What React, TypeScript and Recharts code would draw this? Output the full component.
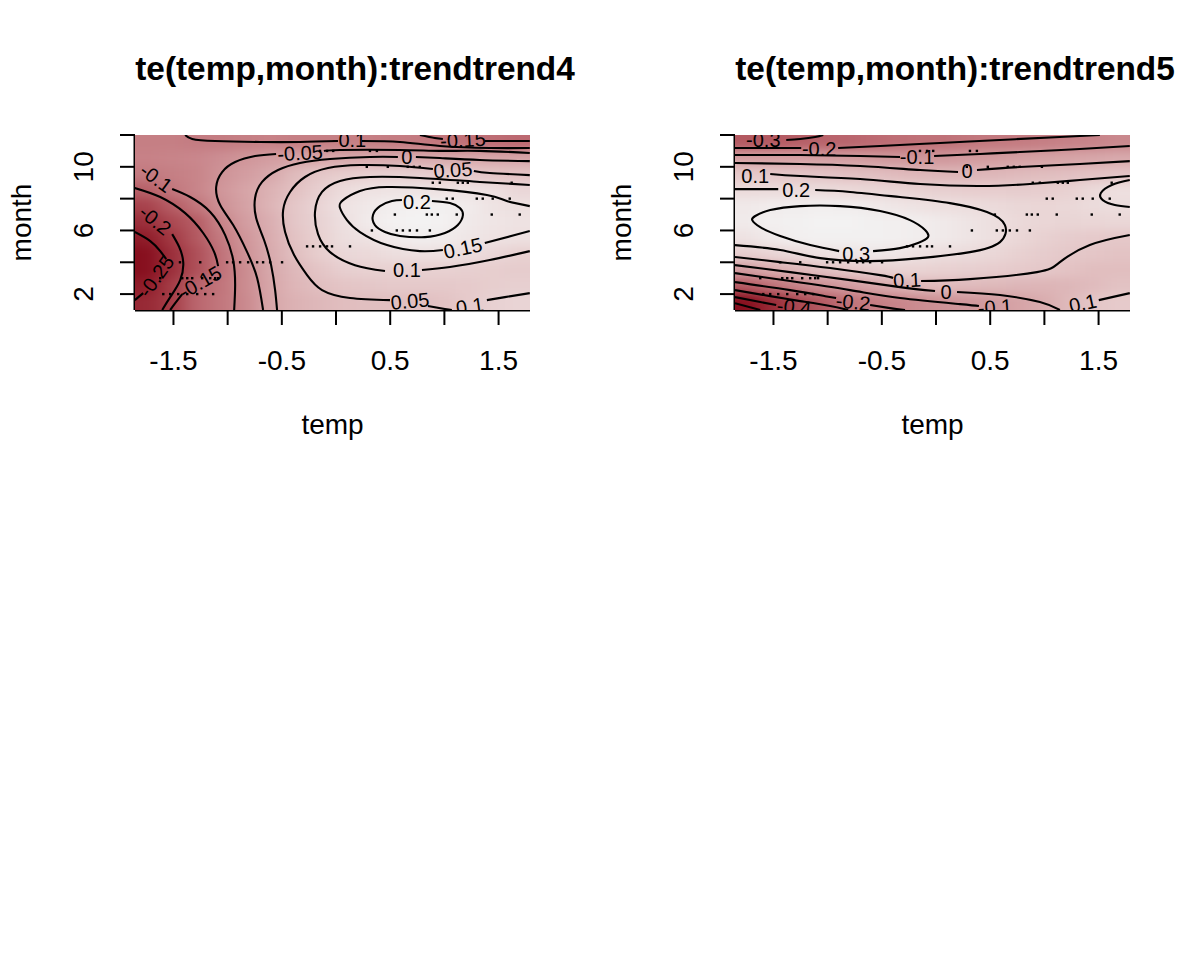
import React from 'react';
import { ComposedChart, XAxis, YAxis, Scatter } from 'recharts';

const FONT = '"Liberation Sans", Arial, Helvetica, sans-serif';

// ---------- axes ----------
const X_MIN = -1.855;
const X_MAX = 1.79;
const M_MIN = 1;
const M_MAX = 12;
const xTicks = [-1.5, -1, -0.5, 0, 0.5, 1, 1.5];
const xTickLabels = ['-1.5', '', '-0.5', '', '0.5', '', '1.5'];
const yTicks = [2, 4, 6, 8, 10, 12];
const yTickLabels = ['2', '', '6', '', '10', ''];

const titles = ['te(temp,month):trendtrend4', 'te(temp,month):trendtrend5'];
const xLabel = 'temp';
const yLabel = 'month';

// ---------- heat grid (cell centres) ----------
const tempCenters = [-1.741, -1.513, -1.285, -1.057, -0.83, -0.602, -0.374, -0.146, 0.082, 0.31, 0.537, 0.765, 0.993, 1.221, 1.449, 1.676];
const monthCenters = [11.5, 10.5, 9.5, 8.5, 7.5, 6.5, 5.5, 4.5, 3.5, 2.5, 1.5];

// rows: month 11.5 (top) ... 1.5 (bottom)
const heatTrend4 = [
  [-0.09, -0.09, -0.095, -0.095, -0.09, -0.085, -0.09, -0.09, -0.09, -0.09, -0.095, -0.1, -0.11, -0.12, -0.125, -0.13],
  [-0.085, -0.08, -0.075, -0.06, -0.045, -0.03, -0.02, -0.01, -0.005, 0.0, 0.0, 0.0, 0.0, -0.003, -0.005, -0.01],
  [-0.1, -0.09, -0.08, -0.05, -0.03, -0.005, 0.04, 0.07, 0.09, 0.097, 0.097, 0.095, 0.08, 0.075, 0.065, 0.06],
  [-0.145, -0.105, -0.08, -0.045, -0.015, 0.02, 0.055, 0.095, 0.135, 0.155, 0.16, 0.16, 0.155, 0.155, 0.145, 0.12],
  [-0.19, -0.15, -0.11, -0.055, -0.02, 0.025, 0.07, 0.11, 0.155, 0.185, 0.205, 0.215, 0.21, 0.19, 0.16, 0.145],
  [-0.22, -0.18, -0.15, -0.08, -0.03, 0.01, 0.07, 0.105, 0.145, 0.19, 0.215, 0.22, 0.215, 0.185, 0.165, 0.155],
  [-0.25, -0.205, -0.155, -0.1, -0.045, 0.005, 0.06, 0.1, 0.14, 0.155, 0.19, 0.2, 0.195, 0.17, 0.155, 0.145],
  [-0.27, -0.22, -0.17, -0.115, -0.05, 0.0, 0.05, 0.09, 0.12, 0.125, 0.14, 0.145, 0.145, 0.14, 0.12, 0.1],
  [-0.27, -0.22, -0.17, -0.115, -0.065, -0.005, 0.035, 0.065, 0.095, 0.1, 0.1, 0.1, 0.1, 0.095, 0.09, 0.085],
  [-0.25, -0.2, -0.14, -0.11, -0.065, -0.01, 0.03, 0.05, 0.065, 0.07, 0.075, 0.075, 0.075, 0.08, 0.09, 0.095],
  [-0.23, -0.2, -0.135, -0.105, -0.07, -0.01, 0.02, 0.035, 0.048, 0.05, 0.05, 0.052, 0.06, 0.08, 0.102, 0.11],
];

const heatTrend5 = [
  [-0.26, -0.26, -0.25, -0.235, -0.23, -0.22, -0.21, -0.2, -0.2, -0.185, -0.175, -0.17, -0.16, -0.15, -0.14, -0.13],
  [-0.05, -0.05, -0.05, -0.055, -0.06, -0.07, -0.08, -0.085, -0.08, -0.07, -0.065, -0.055, -0.045, -0.04, -0.03, -0.02],
  [0.1, 0.1, 0.09, 0.085, 0.07, 0.065, 0.05, 0.035, 0.03, 0.03, 0.035, 0.045, 0.055, 0.065, 0.08, 0.085],
  [0.19, 0.19, 0.19, 0.19, 0.18, 0.17, 0.16, 0.145, 0.135, 0.125, 0.125, 0.12, 0.125, 0.14, 0.18, 0.21],
  [0.27, 0.29, 0.3, 0.305, 0.3, 0.28, 0.25, 0.23, 0.21, 0.2, 0.185, 0.17, 0.165, 0.17, 0.19, 0.2],
  [0.28, 0.31, 0.32, 0.33, 0.33, 0.32, 0.31, 0.3, 0.27, 0.24, 0.21, 0.18, 0.165, 0.16, 0.165, 0.17],
  [0.23, 0.28, 0.31, 0.32, 0.32, 0.32, 0.31, 0.3, 0.27, 0.24, 0.21, 0.17, 0.14, 0.12, 0.11, 0.1],
  [0.13, 0.16, 0.19, 0.22, 0.24, 0.26, 0.25, 0.22, 0.2, 0.19, 0.17, 0.14, 0.12, 0.1, 0.09, 0.08],
  [-0.06, -0.01, 0.035, 0.07, 0.1, 0.13, 0.15, 0.15, 0.14, 0.135, 0.125, 0.11, 0.1, 0.08, 0.06, 0.06],
  [-0.25, -0.2, -0.145, -0.1, -0.07, -0.03, 0.0, 0.04, 0.05, 0.045, 0.04, 0.03, 0.025, 0.03, 0.05, 0.075],
  [-0.44, -0.37, -0.3, -0.26, -0.2, -0.17, -0.14, -0.115, -0.095, -0.08, -0.07, -0.04, -0.01, 0.04, 0.09, 0.11],
];

// ---------- observed (temp, month) points ----------
const obsPoints = [
  [-1.594, 2], [-1.53, 2], [-1.456, 2], [-1.373, 2], [-1.281, 2], [-1.207, 2], [-1.134, 2],
  [-1.622, 3], [-1.419, 3], [-1.373, 3], [-1.327, 3], [-1.235, 3], [-1.161, 3], [-1.115, 3], [-1.088, 3],
  [-1.44, 4], [-1.253, 4], [-1.005, 4], [-0.95, 4], [-0.885, 4], [-0.811, 4], [-0.728, 4], [-0.673, 4], [-0.608, 4], [-0.498, 4],
  [-0.267, 5], [-0.212, 5], [-0.147, 5], [-0.083, 5], [-0.037, 5], [0.129, 5],
  [0.331, 6], [0.561, 6], [0.617, 6], [0.681, 6], [0.747, 6], [0.866, 6],
  [0.543, 7], [0.838, 7], [0.884, 7], [0.939, 7], [1.114, 7], [1.437, 7], [1.695, 7],
  [1.022, 8], [1.077, 8], [1.299, 8], [1.354, 8], [1.446, 8], [1.603, 8],
  [0.893, 9], [0.958, 9], [1.124, 9], [1.17, 9], [1.216, 9], [1.621, 9],
  [0.284, 10], [0.478, 10], [0.662, 10], [0.718, 10], [0.773, 10], [0.977, 10],
  [-0.148, 11], [-0.083, 11], [-0.026, 11], [0.313, 11], [0.377, 11],
];

// ---------- contour pieces (temp, month) ----------
const contoursTrend4 = [
  [[-1.857, 5.9], [-1.714, 5.33], [-1.622, 4.7], [-1.567, 4.2]],
  [[-1.779, 2.06], [-1.857, 1.62]],
  [[-1.512, 5.77], [-1.447, 4.96], [-1.41, 4.01], [-1.438, 2.88], [-1.53, 1.81], [-1.604, 1.0]],
  [[-1.857, 8.67], [-1.622, 8.1], [-1.392, 7.09], [-1.226, 5.84], [-1.124, 4.64], [-1.088, 3.76]],
  [[-1.419, 2.0], [-1.484, 1.43], [-1.53, 1.0]],
  [[-1.512, 8.6], [-1.346, 8.1], [-1.161, 7.16], [-1.023, 5.71], [-0.949, 4.14], [-0.931, 2.57], [-0.94, 1.0]],
  [[-1.392, 12], [-1.327, 11.75], [-1.115, 11.62], [-0.7, 11.56], [-0.332, 11.56], [0.018, 11.62]],
  [[0.24, 11.62], [0.59, 11.56], [0.959, 11.31], [1.419, 11.18], [1.788, 11.18]],
  [[0.774, 12], [0.912, 11.81], [0.986, 11.75]],
  [[1.373, 11.62], [1.788, 11.62]],
  [[1.788, 10.87], [1.327, 11.0], [0.959, 11.0], [0.59, 11.06], [0.037, 11.06], [-0.111, 11.0]],
  [[-0.553, 10.81], [-0.747, 10.68], [-0.931, 10.3], [-1.051, 9.67], [-1.106, 8.73], [-1.069, 7.6], [-0.949, 6.34], [-0.82, 4.64], [-0.728, 3.01], [-0.673, 1.0]],
  [[1.788, 10.36], [1.327, 10.43], [0.959, 10.55], [0.737, 10.62]],
  [[0.571, 10.62], [0.313, 10.62], [-0.055, 10.49], [-0.332, 10.24], [-0.535, 9.8], [-0.682, 9.05], [-0.747, 8.04], [-0.737, 6.78], [-0.664, 5.4], [-0.599, 3.82], [-0.562, 2.25], [-0.544, 1.0]],
  [[1.788, 9.48], [1.419, 9.61], [1.272, 9.74]],
  [[0.894, 9.86], [0.59, 10.05], [0.221, 10.11], [-0.074, 9.92], [-0.286, 9.36], [-0.424, 8.42], [-0.488, 7.28], [-0.47, 5.9], [-0.387, 4.45], [-0.267, 3.19], [-0.129, 2.25], [0.129, 1.75], [0.498, 1.62]],
  [[0.848, 1.25], [1.005, 1.06], [1.069, 1.0]],
  [[1.788, 8.86], [1.327, 9.05], [0.774, 9.3], [0.313, 9.36], [0.037, 9.11], [-0.129, 8.42], [-0.194, 7.16], [-0.166, 5.77], [-0.055, 4.64], [0.175, 3.82], [0.452, 3.45]],
  [[0.793, 3.51], [1.051, 3.7], [1.419, 4.14], [1.788, 4.7]],
  [[1.788, 7.53], [1.576, 7.85], [1.392, 8.23], [0.931, 8.6], [0.47, 8.73], [0.221, 8.48], [0.065, 7.91], [0.037, 7.41], [0.101, 6.65], [0.221, 5.9], [0.47, 5.08], [0.774, 4.7], [0.986, 4.77]],
  [[1.373, 5.21], [1.65, 5.71], [1.788, 5.96]],
  [[0.885, 7.85], [1.051, 7.72], [1.143, 7.41], [1.171, 6.97], [1.124, 6.34], [1.005, 5.84], [0.82, 5.58], [0.59, 5.65], [0.452, 5.9], [0.359, 6.34], [0.341, 6.97], [0.406, 7.53], [0.516, 7.85], [0.608, 7.91]],
  [[1.392, 1.62], [1.558, 1.81], [1.788, 2.06]],
];

const contourLabelsTrend4 = [
  { text: '-0.25', t: -1.659, m: 3.13, rot: -54 },
  { text: '-0.2', t: -1.668, m: 6.65, rot: 39 },
  { text: '-0.15', t: -1.253, m: 2.75, rot: -30 },
  { text: '-0.1', t: -1.659, m: 9.3, rot: 36 },
  { text: '-0.1', t: 0.12, m: 11.69, rot: 0 },
  { text: '-0.15', t: 1.171, m: 11.69, rot: -3 },
  { text: '-0.05', t: -0.332, m: 10.87, rot: -3 },
  { text: '0', t: 0.654, m: 10.62, rot: 0 },
  { text: '0.05', t: 1.078, m: 9.8, rot: -4 },
  { text: '0.05', t: 0.682, m: 1.56, rot: -5 },
  { text: '0.1', t: 0.654, m: 3.51, rot: 0 },
  { text: '0.15', t: 1.171, m: 4.89, rot: -12 },
  { text: '0.2', t: 0.746, m: 7.79, rot: 0 },
  { text: '0.1', t: 1.235, m: 1.25, rot: -8 },
];

const contoursTrend5 = [
  [[-1.382, 11.69], [-1.253, 11.75], [-1.115, 11.87], [-1.041, 12.0]],
  [[-1.855, 11.18], [-1.244, 11.18]],
  [[-0.903, 11.18], [-0.516, 11.31], [0.037, 11.5], [0.59, 11.69], [1.143, 11.87], [1.512, 12.0]],
  [[-1.855, 10.74], [-1.253, 10.74], [-0.7, 10.68], [-0.332, 10.62]],
  [[-0.018, 10.68], [0.406, 10.81], [0.774, 10.93], [1.327, 11.12], [1.788, 11.31]],
  [[-1.855, 10.24], [-1.253, 10.18], [-0.7, 10.05], [-0.147, 9.8], [0.203, 9.67]],
  [[0.378, 9.8], [0.774, 9.99], [1.327, 10.18], [1.788, 10.36]],
  [[-1.53, 9.55], [-1.253, 9.42], [-0.7, 9.23], [-0.147, 8.92], [0.406, 8.79], [0.866, 8.92], [1.327, 9.17], [1.788, 9.42]],
  [[-1.855, 8.6], [-1.456, 8.6]],
  [[-1.115, 8.54], [-0.793, 8.42], [-0.332, 8.1], [0.129, 7.72], [0.47, 7.16], [0.636, 6.34], [0.59, 5.27], [0.313, 4.64], [-0.147, 4.26], [-0.608, 4.07], [-1.069, 4.26], [-1.438, 4.77], [-1.855, 5.08]],
  [[-0.581, 4.7], [-0.332, 4.89], [-0.166, 5.21], [-0.074, 5.58], [-0.101, 6.03], [-0.24, 6.65], [-0.516, 7.22], [-0.885, 7.53], [-1.253, 7.53], [-1.53, 7.28], [-1.668, 6.91], [-1.696, 6.65], [-1.622, 6.21], [-1.438, 5.65], [-1.161, 5.08], [-0.894, 4.7]],
  [[1.788, 9.17], [1.622, 8.86], [1.521, 8.35], [1.539, 7.91], [1.65, 7.6], [1.788, 7.47]],
  [[-1.855, 4.33], [-1.438, 4.01], [-0.977, 3.64], [-0.516, 3.19], [-0.396, 3.01]],
  [[-0.138, 2.82], [0.313, 2.94], [0.931, 3.38], [1.143, 4.01], [1.419, 5.08], [1.788, 5.71]],
  [[-1.855, 3.82], [-1.346, 3.38], [-0.793, 2.88], [-0.332, 2.44], [-0.009, 2.19]],
  [[0.194, 2.13], [0.59, 1.94], [0.959, 1.5], [1.143, 1.0]],
  [[-1.855, 3.32], [-1.346, 2.82], [-0.793, 2.25], [-0.332, 1.75], [0.221, 1.37], [0.396, 1.25]],
  [[1.502, 1.62], [1.788, 2.06]],
  [[-1.855, 2.75], [-1.346, 2.25], [-1.023, 1.87], [-0.922, 1.75]],
  [[-0.608, 1.31], [-0.424, 1.12], [-0.286, 1.0]],
  [[-1.855, 2.25], [-1.53, 1.87], [-1.253, 1.56], [-0.977, 1.25], [-0.811, 1.0]],
  [[-1.855, 1.81], [-1.622, 1.5], [-1.475, 1.31]],
  [[-1.855, 1.43], [-1.622, 1.0]],
];

const contourLabelsTrend5 = [
  { text: '-0.3', t: -1.594, m: 11.69, rot: 0 },
  { text: '-0.2', t: -1.078, m: 11.12, rot: 0 },
  { text: '-0.1', t: -0.175, m: 10.62, rot: 0 },
  { text: '0', t: 0.286, m: 9.74, rot: 0 },
  { text: '0.1', t: -1.668, m: 9.42, rot: 0 },
  { text: '0.2', t: -1.29, m: 8.54, rot: 0 },
  { text: '0.3', t: -0.737, m: 4.52, rot: 0 },
  { text: '0.1', t: -0.267, m: 2.88, rot: -3 },
  { text: '0', t: 0.092, m: 2.13, rot: 0 },
  { text: '-0.1', t: 0.544, m: 1.19, rot: -4 },
  { text: '0.1', t: 1.355, m: 1.43, rot: -12 },
  { text: '-0.2', t: -0.765, m: 1.5, rot: 6 },
  { text: '-0.4', t: -1.309, m: 1.19, rot: 6 },
];

// ---------- layout ----------
const CHART_W = 600;
const CHART_H = 480;
const MARGIN = { top: 135, right: 70, bottom: 0, left: 0 };
const Y_AXIS_W = 135;
const X_AXIS_H = 170;
const PLOT_W = CHART_W - MARGIN.left - MARGIN.right - Y_AXIS_W;
const PLOT_H = CHART_H - MARGIN.top - MARGIN.bottom - X_AXIS_H;

const RAMP: [number, number[]][] = [
  [0, [135, 15, 30]],
  [0.15, [165, 62, 72]],
  [0.3, [190, 110, 117]],
  [0.5, [212, 160, 163]],
  [0.7, [229, 200, 201]],
  [0.85, [237, 224, 224]],
  [1, [243, 242, 242]],
];

function rampColor(t: number) {
  const s = Math.max(0, Math.min(1, t));
  for (let i = 1; i < RAMP.length; i++) {
    if (s <= RAMP[i][0]) {
      const [t0, c0] = RAMP[i - 1];
      const [t1, c1] = RAMP[i];
      const f = (s - t0) / (t1 - t0);
      return `rgb(${c0.map((v, k) => Math.round(v + (c1[k] - v) * f)).join(',')})`;
    }
  }
  return 'rgb(243,242,242)';
}

function buildCells(heat: number[][]) {
  const flat = heat.flat();
  const lo = Math.min(...flat);
  const hi = Math.max(...flat);
  const out: any[] = [];
  heat.forEach((row, r) =>
    row.forEach((v, c) =>
      out.push({ t: tempCenters[c], m: monthCenters[r], v, r, c, fill: rampColor((v - lo) / (hi - lo)) })
    )
  );
  return out;
}

function makeCellShape(nCols: number, nRows: number) {
  const cw = ((tempCenters[1] - tempCenters[0]) / (X_MAX - X_MIN)) * PLOT_W;
  const ch = ((monthCenters[0] - monthCenters[1]) / (M_MAX - M_MIN)) * PLOT_H;
  const EXT = 26;
  return (props: any) => {
    const { cx, cy, payload } = props;
    let x0 = cx - cw / 2 - 0.6;
    let x1 = cx + cw / 2 + 0.6;
    let y0 = cy - ch / 2 - 0.6;
    let y1 = cy + ch / 2 + 0.6;
    if (payload.c === 0) x0 -= EXT;
    if (payload.c === nCols - 1) x1 += EXT;
    if (payload.r === 0) y0 -= EXT;
    if (payload.r === nRows - 1) y1 += EXT;
    return <rect x={x0} y={y0} width={x1 - x0} height={y1 - y0} fill={payload.fill} stroke="none" />;
  };
}

const NoShape = () => <g />;

const DotShape = (props: any) => {
  const { cx, cy } = props;
  return <rect x={cx - 1.2} y={cy - 1.2} width={2.4} height={2.4} fill="#000" />;
};

const LabelShape = (props: any) => {
  const { cx, cy, payload } = props;
  return (
    <text
      x={cx}
      y={cy}
      transform={`rotate(${payload.rot} ${cx} ${cy})`}
      textAnchor="middle"
      dominantBaseline="central"
      fontSize={20}
      fontFamily={FONT}
      fill="#000"
    >
      {payload.text}
    </text>
  );
};

const XTick = (props: any) => {
  const { x, y, payload } = props;
  const i = xTicks.indexOf(payload.value);
  return (
    <text x={x} y={y + 43} textAnchor="middle" fontSize={28} fontFamily={FONT} fill="#000">
      {i >= 0 ? xTickLabels[i] : ''}
    </text>
  );
};

const YTick = (props: any) => {
  const { x, y, payload } = props;
  const i = yTicks.indexOf(payload.value);
  return (
    <text
      transform={`translate(${x - 25},${y}) rotate(-90)`}
      textAnchor="middle"
      fontSize={28}
      fontFamily={FONT}
      fill="#000"
    >
      {i >= 0 ? yTickLabels[i] : ''}
    </text>
  );
};

const obsData = obsPoints.map(([t, m]) => ({ t, m }));

function Panel({ idx, heat, contours, labels }: any) {
  const id = `p${idx}`;
  const cells = buildCells(heat);
  const CellShape = makeCellShape(heat[0].length, heat.length);
  return (
    <ComposedChart width={CHART_W} height={CHART_H} margin={MARGIN}>
      <defs>
        <filter id={`blur-${id}`} x="-10%" y="-10%" width="120%" height="120%" colorInterpolationFilters="sRGB">
          <feGaussianBlur stdDeviation="9 5" />
        </filter>
      </defs>
      <XAxis
        type="number"
        dataKey="t"
        domain={[X_MIN, X_MAX]}
        allowDataOverflow
        ticks={xTicks}
        interval={0}
        tickSize={15}
        tickMargin={2}
        height={X_AXIS_H}
        axisLine={{ stroke: '#000', strokeWidth: 3 }}
        tickLine={{ stroke: '#000', strokeWidth: 2 }}
        tick={<XTick />}
      />
      <YAxis
        type="number"
        dataKey="m"
        domain={[M_MIN, M_MAX]}
        allowDataOverflow
        ticks={yTicks}
        interval={0}
        tickSize={15}
        tickMargin={2}
        width={Y_AXIS_W}
        axisLine={{ stroke: '#000', strokeWidth: 3 }}
        tickLine={{ stroke: '#000', strokeWidth: 2 }}
        tick={<YTick />}
      />
      <Scatter data={cells} shape={CellShape} className={`heat-${id}`} isAnimationActive={false} />
      {contours.map((seg: number[][], i: number) => (
        <Scatter
          key={`c${i}`}
          data={seg.map(([t, m]) => ({ t, m }))}
          shape={NoShape}
          line={{ stroke: '#000', strokeWidth: 2.1, fill: 'none' }}
          lineType="joint"
          lineJointType="natural"
          isAnimationActive={false}
        />
      ))}
      <Scatter data={obsData} shape={DotShape} isAnimationActive={false} />
      <Scatter data={labels} shape={LabelShape} isAnimationActive={false} />
    </ComposedChart>
  );
}

const panels = [
  { heat: heatTrend4, contours: contoursTrend4, labels: contourLabelsTrend4 },
  { heat: heatTrend5, contours: contoursTrend5, labels: contourLabelsTrend5 },
];

export default function App() {
  return (
    <div style={{ position: 'absolute', left: 0, top: 0, width: 1200, height: 960, background: '#fff' }}>
      <style>{`.heat-p0 { filter: url(#blur-p0); } .heat-p1 { filter: url(#blur-p1); }`}</style>
      {panels.map((p, i) => (
        <div key={i} style={{ position: 'absolute', left: i * 600, top: 0 }}>
          <Panel idx={i} heat={p.heat} contours={p.contours} labels={p.labels} />
        </div>
      ))}
      <svg
        width={1200}
        height={960}
        style={{ position: 'absolute', left: 0, top: 0, pointerEvents: 'none' }}
      >
        {panels.map((p, i) => (
          <g key={i} fontFamily={FONT} fill="#000">
            <text x={i * 600 + 355} y={80} textAnchor="middle" fontSize={33.4} fontWeight="bold">
              {titles[i]}
            </text>
            <text x={i * 600 + 332.5} y={434} textAnchor="middle" fontSize={28}>
              {xLabel}
            </text>
            <text transform={`translate(${i * 600 + 31},222.5) rotate(-90)`} textAnchor="middle" fontSize={28}>
              {yLabel}
            </text>
          </g>
        ))}
      </svg>
    </div>
  );
}
